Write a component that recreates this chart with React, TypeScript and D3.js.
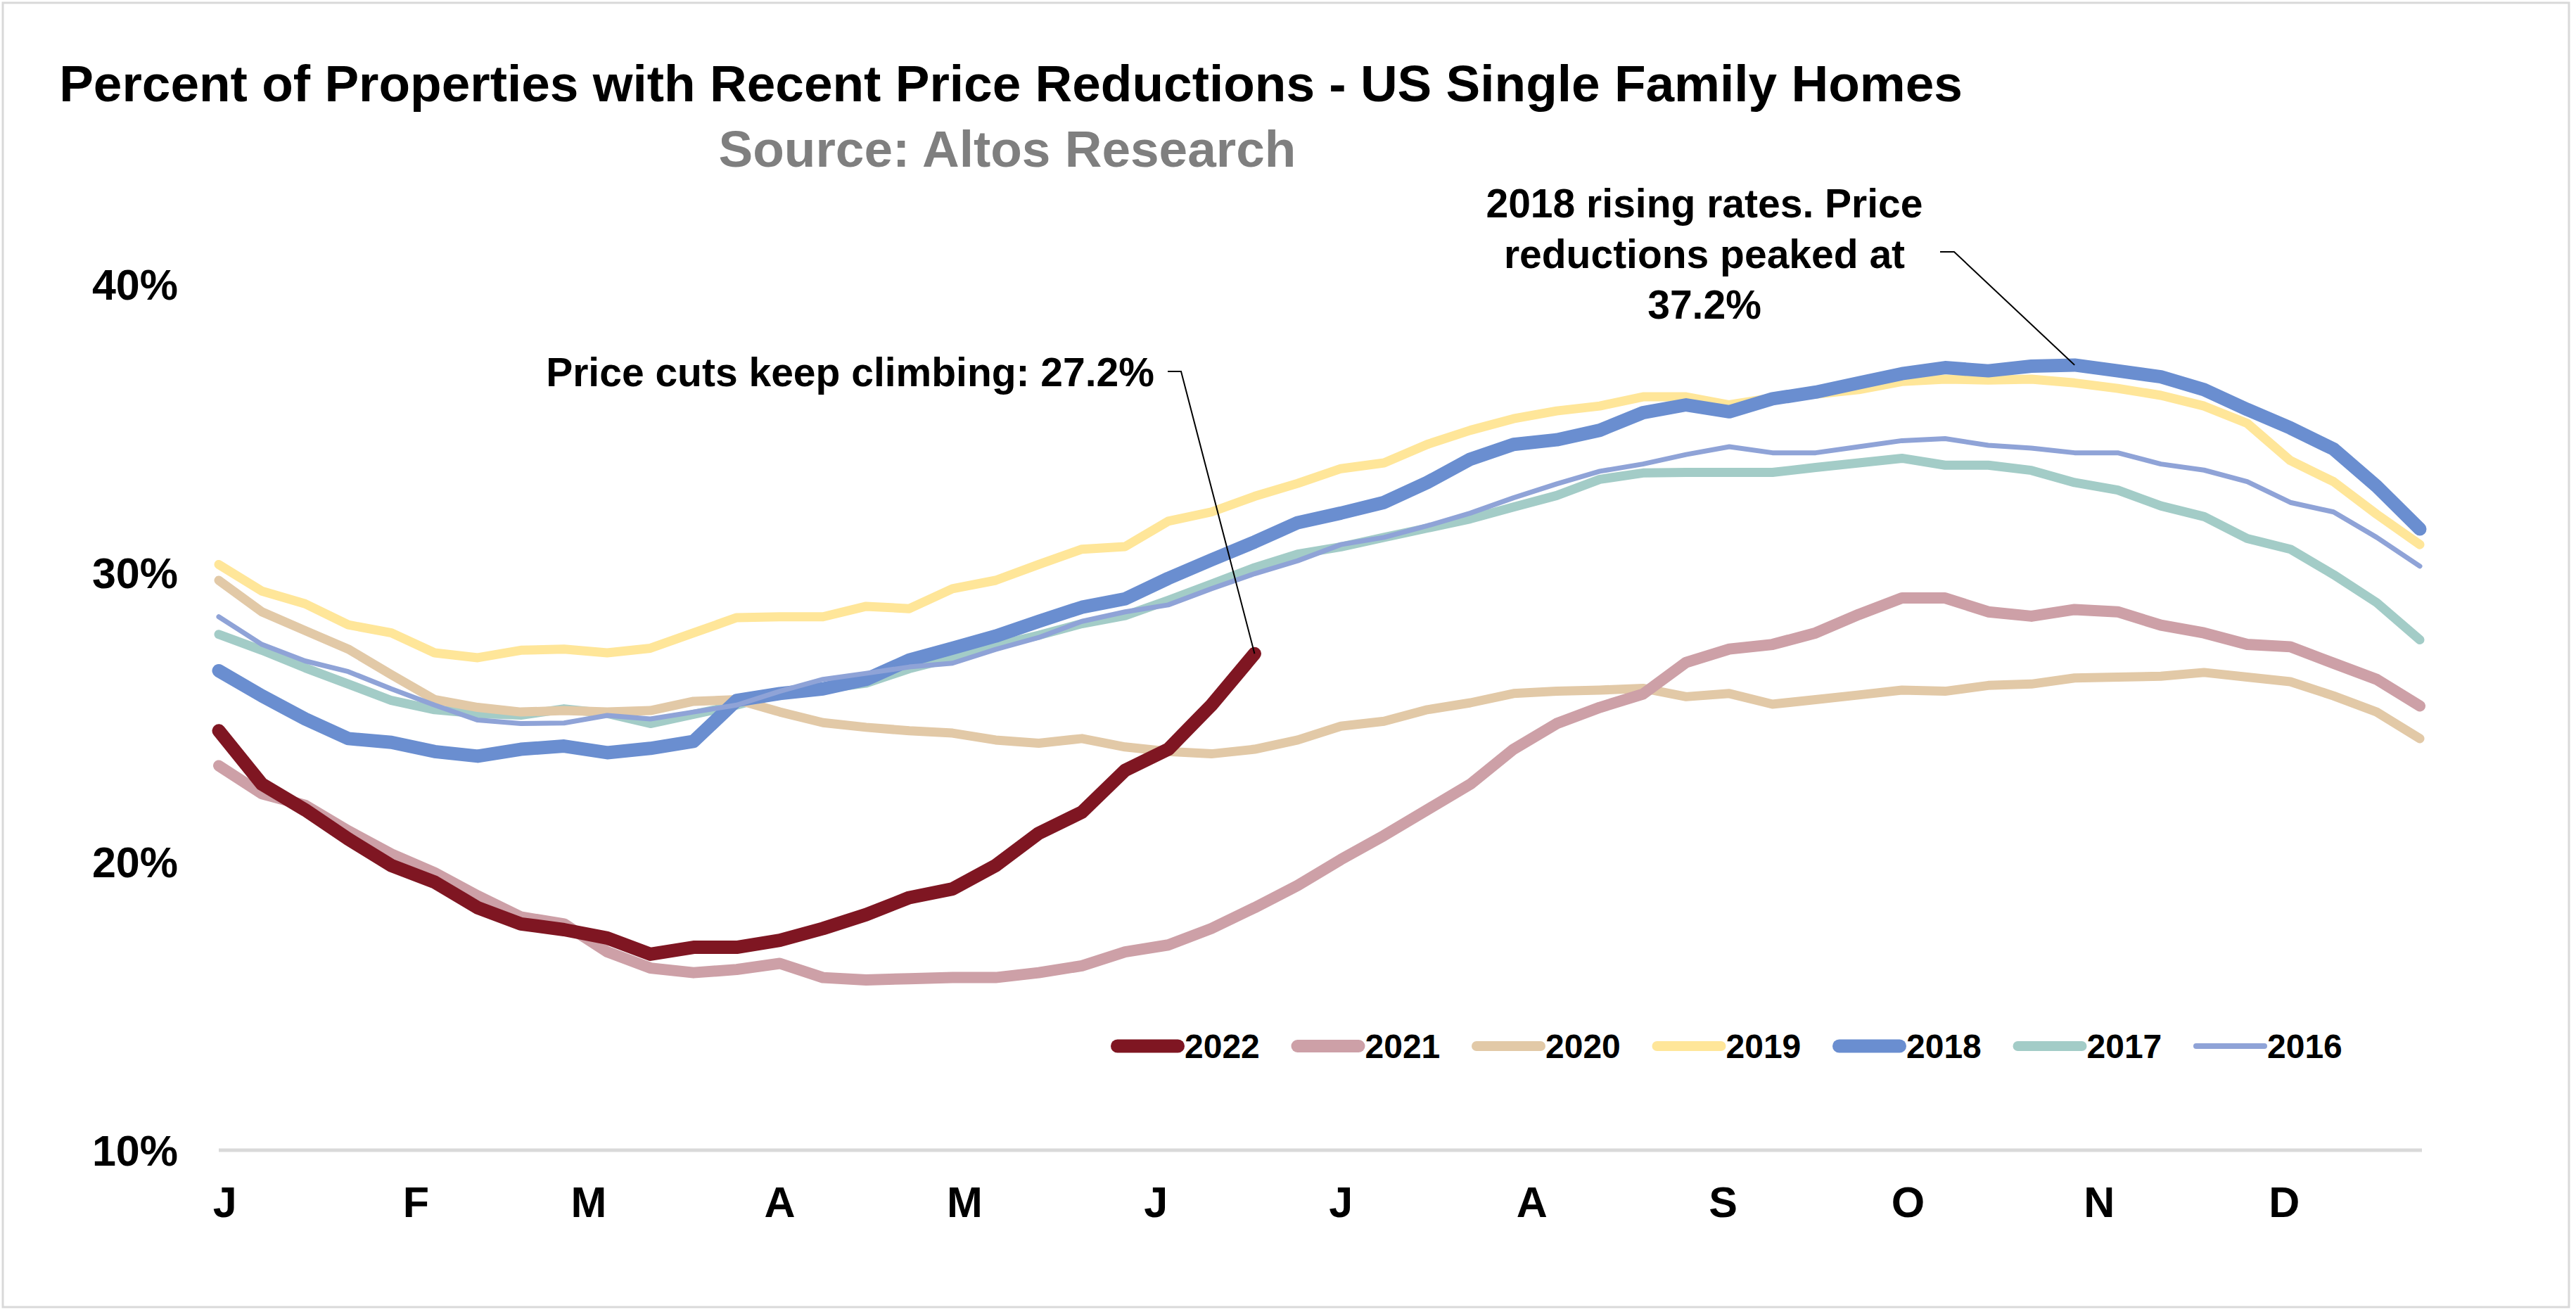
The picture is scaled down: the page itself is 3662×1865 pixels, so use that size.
import React from "react";
import * as d3 from "d3";

const monthLabels = ["J", "F", "M", "A", "M", "J", "J", "A", "S", "O", "N", "D"];
const monthStartDays = [0, 31, 59, 90, 120, 151, 181, 212, 243, 273, 304, 334];
const yTicks = [10, 20, 30, 40];
const years = ["2022", "2021", "2020", "2019", "2018", "2017", "2016"];

const v2022 = [24.53, 22.68, 21.79, 20.78, 19.86, 19.29, 18.4, 17.84, 17.64, 17.35, 16.79, 17.03, 17.03, 17.27, 17.68, 18.16, 18.75, 19.05, 19.86, 20.98, 21.71, 23.16, 23.89, 25.42, 27.2];
const v2021 = [23.32, 22.35, 21.95, 21.06, 20.26, 19.61, 18.81, 18.08, 17.84, 16.87, 16.31, 16.15, 16.26, 16.47, 15.98, 15.9, 15.94, 15.98, 15.98, 16.15, 16.39, 16.87, 17.11, 17.68, 18.4, 19.17, 20.07, 20.9, 21.79, 22.68, 23.89, 24.78, 25.34, 25.8, 26.9, 27.36, 27.52, 27.92, 28.56, 29.13, 29.13, 28.65, 28.5, 28.73, 28.65, 28.19, 27.92, 27.52, 27.44, 26.87, 26.31, 25.39];
const v2020 = [29.74, 28.65, 28.0, 27.36, 26.47, 25.61, 25.34, 25.18, 25.23, 25.18, 25.23, 25.55, 25.61, 25.18, 24.81, 24.65, 24.53, 24.45, 24.21, 24.1, 24.26, 23.97, 23.81, 23.73, 23.89, 24.21, 24.69, 24.86, 25.26, 25.5, 25.82, 25.9, 25.94, 26.0, 25.71, 25.82, 25.45, 25.61, 25.77, 25.94, 25.9, 26.1, 26.15, 26.36, 26.39, 26.42, 26.55, 26.39, 26.23, 25.74, 25.18, 24.26];
const v2019 = [30.29, 29.37, 28.93, 28.2, 27.92, 27.23, 27.06, 27.32, 27.36, 27.23, 27.39, 27.92, 28.45, 28.48, 28.48, 28.84, 28.76, 29.45, 29.74, 30.29, 30.82, 30.91, 31.79, 32.11, 32.65, 33.1, 33.61, 33.81, 34.45, 34.94, 35.34, 35.61, 35.78, 36.1, 36.1, 35.82, 36.06, 36.19, 36.35, 36.63, 36.71, 36.68, 36.71, 36.58, 36.39, 36.15, 35.78, 35.18, 33.89, 33.16, 32.03, 30.98];
const v2018 = [26.61, 25.74, 24.94, 24.26, 24.13, 23.81, 23.65, 23.89, 24.0, 23.77, 23.92, 24.16, 25.58, 25.82, 25.98, 26.31, 26.98, 27.39, 27.81, 28.32, 28.81, 29.1, 29.81, 30.45, 31.07, 31.74, 32.07, 32.44, 33.13, 33.94, 34.45, 34.61, 34.94, 35.55, 35.82, 35.58, 36.03, 36.26, 36.58, 36.9, 37.11, 37.0, 37.16, 37.2, 37.0, 36.79, 36.35, 35.66, 35.02, 34.29, 33.0, 31.52];
const v2017 = [27.87, 27.32, 26.71, 26.15, 25.58, 25.26, 25.13, 25.07, 25.29, 25.13, 24.78, 25.1, 25.42, 25.82, 25.98, 26.18, 26.68, 27.06, 27.48, 27.84, 28.24, 28.52, 29.05, 29.61, 30.18, 30.65, 30.9, 31.23, 31.55, 31.87, 32.28, 32.68, 33.24, 33.46, 33.48, 33.48, 33.48, 33.65, 33.81, 33.97, 33.73, 33.73, 33.55, 33.13, 32.87, 32.32, 31.95, 31.19, 30.82, 29.94, 28.97, 27.68];
const v2016 = [28.48, 27.52, 26.95, 26.58, 25.98, 25.42, 24.9, 24.78, 24.8, 25.06, 24.94, 25.18, 25.42, 25.9, 26.31, 26.52, 26.74, 26.87, 27.35, 27.76, 28.32, 28.65, 28.89, 29.45, 29.97, 30.42, 30.98, 31.23, 31.63, 32.07, 32.6, 33.08, 33.52, 33.77, 34.1, 34.37, 34.16, 34.16, 34.37, 34.58, 34.65, 34.42, 34.32, 34.16, 34.16, 33.77, 33.56, 33.16, 32.44, 32.11, 31.23, 30.23];

const titleText = "Percent of Properties with Recent Price Reductions - US Single Family Homes";
const subtitleText = "Source: Altos Research";
const noteCuts = "Price cuts keep climbing: 27.2%";
const notePeakLines = ["2018 rising rates. Price", "reductions peaked at", "37.2%"];

const seriesValues: Record<string, number[]> = {
  "2022": v2022,
  "2021": v2021,
  "2020": v2020,
  "2019": v2019,
  "2018": v2018,
  "2017": v2017,
  "2016": v2016,
};

const styles: Record<string, { color: string; width: number; legendWidth: number }> = {
  "2022": { color: "#7F1622", width: 19, legendWidth: 19 },
  "2021": { color: "#CDA0A7", width: 16, legendWidth: 18 },
  "2020": { color: "#E2C9A7", width: 13, legendWidth: 14 },
  "2019": { color: "#FFE699", width: 13, legendWidth: 14 },
  "2018": { color: "#6A8ED0", width: 19, legendWidth: 19 },
  "2017": { color: "#A3CCC7", width: 13, legendWidth: 14 },
  "2016": { color: "#8FA3D7", width: 7, legendWidth: 8 },
};

const drawOrder = ["2017", "2019", "2020", "2021", "2018", "2016", "2022"];
const FONT = "'Liberation Sans', Arial, Helvetica, sans-serif";

export default function App() {
  React.useEffect(() => {
    document.body.style.margin = "0";
    document.body.style.overflow = "hidden";
  }, []);

  const W = 3662;
  const H = 1865;
  const x = d3.scaleLinear().domain([0, 51]).range([311, 3440]);
  const y = d3.scaleLinear().domain([10, 40]).range([1635, 404]);
  const line = d3
    .line<number>()
    .x((_d, i) => x(i))
    .y((d) => y(d));

  const cutsEnd = { x: x(v2022.length - 1), y: y(v2022[v2022.length - 1]) };
  const peakIdx = 43;
  const peakPt = { x: x(peakIdx), y: y(v2018[peakIdx]) };

  return (
    <svg
      width={W}
      height={H}
      viewBox={`0 0 ${W} ${H}`}
      style={{ position: "absolute", left: 0, top: 0, display: "block" }}
      fontFamily={FONT}
    >
      <rect x={0} y={0} width={W} height={H} fill="#ffffff" />
      <rect x={4} y={4} width={3648} height={1854} fill="#ffffff" stroke="#D9D9D9" strokeWidth={3} />

      <text x={1437} y={144} textAnchor="middle" fontSize={73} fontWeight={700} fill="#000">
        {titleText}
      </text>
      <text x={1432} y={237} textAnchor="middle" fontSize={73} fontWeight={700} fill="#7F7F7F">
        {subtitleText}
      </text>

      {yTicks.map((t) => (
        <text key={t} x={253} y={y(t) + 22} textAnchor="end" fontSize={61} fontWeight={700} fill="#000">
          {`${t}%`}
        </text>
      ))}

      <line x1={x(0)} x2={x(51) + 3} y1={y(10)} y2={y(10)} stroke="#D9D9D9" strokeWidth={5} />

      {monthLabels.map((m, i) => (
        <text
          key={i}
          x={x((monthStartDays[i] + 1) / 7)}
          y={1730}
          textAnchor="middle"
          fontSize={61}
          fontWeight={700}
          fill="#000"
        >
          {m}
        </text>
      ))}

      {drawOrder.map((yr) => (
        <path
          key={yr}
          d={line(seriesValues[yr]) || ""}
          fill="none"
          stroke={styles[yr].color}
          strokeWidth={styles[yr].width}
          strokeLinejoin="round"
          strokeLinecap="round"
        />
      ))}

      {years.map((yr, k) => {
        const x0 = 1579 + k * 256.5;
        const w = styles[yr].legendWidth;
        return (
          <g key={yr}>
            <line
              x1={x0 + w / 2}
              x2={x0 + 105 - w / 2}
              y1={1487}
              y2={1487}
              stroke={styles[yr].color}
              strokeWidth={w}
              strokeLinecap="round"
            />
            <text x={x0 + 105} y={1504} fontSize={48} fontWeight={700} fill="#000">
              {yr}
            </text>
          </g>
        );
      })}

      <text x={1641} y={549} textAnchor="end" fontSize={57} fontWeight={700} fill="#000">
        {noteCuts}
      </text>
      <polyline
        points={`1660,528 1679,528 ${cutsEnd.x},${cutsEnd.y}`}
        fill="none"
        stroke="#000"
        strokeWidth={2}
      />

      {notePeakLines.map((t, i) => (
        <text key={i} x={2423} y={309 + i * 72} textAnchor="middle" fontSize={57} fontWeight={700} fill="#000">
          {t}
        </text>
      ))}
      <polyline
        points={`2758,358 2778,358 ${peakPt.x},${peakPt.y}`}
        fill="none"
        stroke="#000"
        strokeWidth={2}
      />
    </svg>
  );
}
